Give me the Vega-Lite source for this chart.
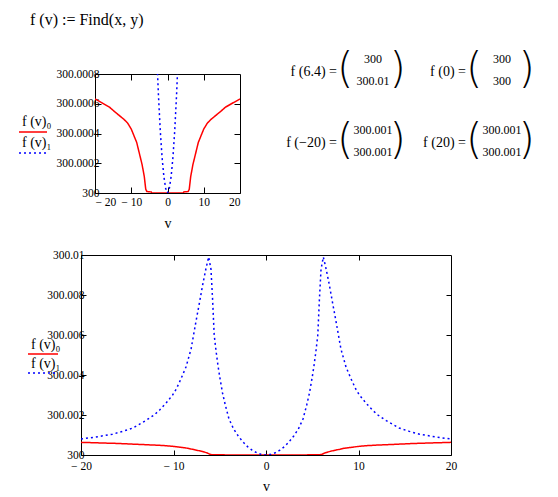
{
  "$schema": "https://vega.github.io/schema/vega-lite/v6.json",
  "background": "white",
  "padding": {"left": 18, "top": 11, "right": 0, "bottom": 0},
  "autosize": {"type": "pad"},
  "config": {
    "font": "Liberation Serif",
    "view": {"stroke": "black", "strokeWidth": 1},
    "axis": {
      "labelFont": "Liberation Serif",
      "labelFontSize": 11.5,
      "labelColor": "black",
      "tickColor": "black",
      "tickWidth": 1,
      "domain": false,
      "grid": false,
      "titleFont": "Liberation Serif",
      "titleFontSize": 14,
      "titleFontWeight": "normal",
      "titleColor": "black"
    },
    "legend": {
      "labelFont": "Liberation Serif",
      "labelFontSize": 14,
      "labelColor": "black",
      "symbolType": "stroke",
      "symbolStrokeWidth": 1.5,
      "padding": 0
    }
  },
  "title": {
    "text": "f (v)  :=  Find(x, y)",
    "anchor": "start",
    "font": "Liberation Serif",
    "fontSize": 16,
    "fontWeight": "normal",
    "color": "black",
    "dx": 12,
    "offset": 21
  },
  "datasets": {
    "f": [
      {"v": -20, "y": 300.000632, "s": "f (v)₀"},
      {"v": -18, "y": 300.000605, "s": "f (v)₀"},
      {"v": -16, "y": 300.000577, "s": "f (v)₀"},
      {"v": -14.5, "y": 300.000545, "s": "f (v)₀"},
      {"v": -13, "y": 300.000515, "s": "f (v)₀"},
      {"v": -12, "y": 300.000495, "s": "f (v)₀"},
      {"v": -11, "y": 300.00047, "s": "f (v)₀"},
      {"v": -10, "y": 300.00043, "s": "f (v)₀"},
      {"v": -9, "y": 300.00037, "s": "f (v)₀"},
      {"v": -8.5, "y": 300.00034, "s": "f (v)₀"},
      {"v": -8, "y": 300.00029, "s": "f (v)₀"},
      {"v": -7.5, "y": 300.00024, "s": "f (v)₀"},
      {"v": -7, "y": 300.00019, "s": "f (v)₀"},
      {"v": -6.7, "y": 300.00015, "s": "f (v)₀"},
      {"v": -6.4, "y": 300.00011, "s": "f (v)₀"},
      {"v": -6, "y": 300.000025, "s": "f (v)₀"},
      {"v": -5.7, "y": 300.00001, "s": "f (v)₀"},
      {"v": -4.5, "y": 300.000007, "s": "f (v)₀"},
      {"v": -4.4, "y": 300, "s": "f (v)₀"},
      {"v": 0, "y": 300, "s": "f (v)₀"},
      {"v": 4.4, "y": 300, "s": "f (v)₀"},
      {"v": 4.5, "y": 300.000007, "s": "f (v)₀"},
      {"v": 5.7, "y": 300.00001, "s": "f (v)₀"},
      {"v": 6, "y": 300.000025, "s": "f (v)₀"},
      {"v": 6.4, "y": 300.00011, "s": "f (v)₀"},
      {"v": 6.7, "y": 300.00015, "s": "f (v)₀"},
      {"v": 7, "y": 300.00019, "s": "f (v)₀"},
      {"v": 7.5, "y": 300.00024, "s": "f (v)₀"},
      {"v": 8, "y": 300.00029, "s": "f (v)₀"},
      {"v": 8.5, "y": 300.00034, "s": "f (v)₀"},
      {"v": 9, "y": 300.00037, "s": "f (v)₀"},
      {"v": 10, "y": 300.00043, "s": "f (v)₀"},
      {"v": 11, "y": 300.00047, "s": "f (v)₀"},
      {"v": 12, "y": 300.000495, "s": "f (v)₀"},
      {"v": 13, "y": 300.000515, "s": "f (v)₀"},
      {"v": 14.5, "y": 300.000545, "s": "f (v)₀"},
      {"v": 16, "y": 300.000577, "s": "f (v)₀"},
      {"v": 18, "y": 300.000605, "s": "f (v)₀"},
      {"v": 20, "y": 300.000632, "s": "f (v)₀"},
      {"v": -20, "y": 300.0008, "s": "f (v)₁"},
      {"v": -19, "y": 300.00086, "s": "f (v)₁"},
      {"v": -18, "y": 300.00093, "s": "f (v)₁"},
      {"v": -16.6, "y": 300.00104, "s": "f (v)₁"},
      {"v": -15.5, "y": 300.00118, "s": "f (v)₁"},
      {"v": -14.4, "y": 300.00135, "s": "f (v)₁"},
      {"v": -13, "y": 300.00172, "s": "f (v)₁"},
      {"v": -12.1, "y": 300.002, "s": "f (v)₁"},
      {"v": -11.5, "y": 300.00225, "s": "f (v)₁"},
      {"v": -10.8, "y": 300.0026, "s": "f (v)₁"},
      {"v": -10.1, "y": 300.003, "s": "f (v)₁"},
      {"v": -9.7, "y": 300.0033, "s": "f (v)₁"},
      {"v": -9.2, "y": 300.0038, "s": "f (v)₁"},
      {"v": -8.65, "y": 300.0044, "s": "f (v)₁"},
      {"v": -8.1, "y": 300.0053, "s": "f (v)₁"},
      {"v": -7.6, "y": 300.0066, "s": "f (v)₁"},
      {"v": -7.2, "y": 300.0076, "s": "f (v)₁"},
      {"v": -6.85, "y": 300.0085, "s": "f (v)₁"},
      {"v": -6.5, "y": 300.0093, "s": "f (v)₁"},
      {"v": -6.2, "y": 300.0099, "s": "f (v)₁"},
      {"v": -5.95, "y": 300.0093, "s": "f (v)₁"},
      {"v": -5.77, "y": 300.00775, "s": "f (v)₁"},
      {"v": -5.6, "y": 300.006, "s": "f (v)₁"},
      {"v": -5.4, "y": 300.0052, "s": "f (v)₁"},
      {"v": -5.2, "y": 300.0045, "s": "f (v)₁"},
      {"v": -5, "y": 300.0039, "s": "f (v)₁"},
      {"v": -4.7, "y": 300.0031, "s": "f (v)₁"},
      {"v": -4.4, "y": 300.0025, "s": "f (v)₁"},
      {"v": -4, "y": 300.0018, "s": "f (v)₁"},
      {"v": -3.5, "y": 300.0013, "s": "f (v)₁"},
      {"v": -3, "y": 300.00095, "s": "f (v)₁"},
      {"v": -2.5, "y": 300.00066, "s": "f (v)₁"},
      {"v": -2, "y": 300.00042, "s": "f (v)₁"},
      {"v": -1.5, "y": 300.00024, "s": "f (v)₁"},
      {"v": -1, "y": 300.00011, "s": "f (v)₁"},
      {"v": -0.5, "y": 300.00003, "s": "f (v)₁"},
      {"v": 0, "y": 300, "s": "f (v)₁"},
      {"v": 0.5, "y": 300.00003, "s": "f (v)₁"},
      {"v": 1, "y": 300.00011, "s": "f (v)₁"},
      {"v": 1.5, "y": 300.00024, "s": "f (v)₁"},
      {"v": 2, "y": 300.00042, "s": "f (v)₁"},
      {"v": 2.5, "y": 300.00066, "s": "f (v)₁"},
      {"v": 3, "y": 300.00095, "s": "f (v)₁"},
      {"v": 3.5, "y": 300.0013, "s": "f (v)₁"},
      {"v": 4, "y": 300.0018, "s": "f (v)₁"},
      {"v": 4.4, "y": 300.0025, "s": "f (v)₁"},
      {"v": 4.7, "y": 300.0031, "s": "f (v)₁"},
      {"v": 5, "y": 300.0039, "s": "f (v)₁"},
      {"v": 5.2, "y": 300.0045, "s": "f (v)₁"},
      {"v": 5.4, "y": 300.0052, "s": "f (v)₁"},
      {"v": 5.6, "y": 300.006, "s": "f (v)₁"},
      {"v": 5.77, "y": 300.00775, "s": "f (v)₁"},
      {"v": 5.95, "y": 300.0093, "s": "f (v)₁"},
      {"v": 6.2, "y": 300.0099, "s": "f (v)₁"},
      {"v": 6.5, "y": 300.0093, "s": "f (v)₁"},
      {"v": 6.85, "y": 300.0085, "s": "f (v)₁"},
      {"v": 7.2, "y": 300.0076, "s": "f (v)₁"},
      {"v": 7.6, "y": 300.0066, "s": "f (v)₁"},
      {"v": 8.1, "y": 300.0053, "s": "f (v)₁"},
      {"v": 8.65, "y": 300.0044, "s": "f (v)₁"},
      {"v": 9.2, "y": 300.0038, "s": "f (v)₁"},
      {"v": 9.7, "y": 300.0033, "s": "f (v)₁"},
      {"v": 10.1, "y": 300.003, "s": "f (v)₁"},
      {"v": 10.8, "y": 300.0026, "s": "f (v)₁"},
      {"v": 11.5, "y": 300.00225, "s": "f (v)₁"},
      {"v": 12.1, "y": 300.002, "s": "f (v)₁"},
      {"v": 13, "y": 300.00172, "s": "f (v)₁"},
      {"v": 14.4, "y": 300.00135, "s": "f (v)₁"},
      {"v": 15.5, "y": 300.00118, "s": "f (v)₁"},
      {"v": 16.6, "y": 300.00104, "s": "f (v)₁"},
      {"v": 18, "y": 300.00093, "s": "f (v)₁"},
      {"v": 19, "y": 300.00086, "s": "f (v)₁"},
      {"v": 20, "y": 300.0008, "s": "f (v)₁"}
    ],
    "m": [
      {"col": 0, "row": 0, "lab": "f (6.4) =", "top": "300", "bot": "300.01"},
      {"col": 1, "row": 0, "lab": "f (0) =", "top": "300", "bot": "300"},
      {"col": 0, "row": 1, "lab": "f (−20) =", "top": "300.001", "bot": "300.001"},
      {"col": 1, "row": 1, "lab": "f (20) =", "top": "300.001", "bot": "300.001"}
    ]
  },
  "vconcat": [
    {
      "hconcat": [
        {
          "width": 1,
          "height": 1,
          "view": {"stroke": null},
          "data": {"values": [{}]},
          "mark": {"type": "point", "opacity": 0}
        },
        {
          "width": 145,
          "height": 119,
          "data": {"name": "f"},
          "layer": [
            {
              "mark": {"type": "line", "clip": true, "strokeWidth": 1.5},
              "encoding": {
                "x": {"field": "v", "type": "quantitative",
                  "scale": {"domain": [-20, 20], "nice": false, "zero": false},
                  "axis": {"orient": "bottom", "values": [-20, -10, 0, 10, 20], "tickSize": -6,
                    "labelExpr": "datum.value < 0 ? '− ' + (-datum.value) : datum.label",
                    "labelFlush": true, "labelOverlap": false, "labelPadding": 9.5,
                    "title": "v", "titlePadding": 8}},
                "y": {"field": "y", "type": "quantitative",
                  "scale": {"domain": [300, 300.0008], "nice": false, "zero": false},
                  "axis": {"orient": "left", "values": [300, 300.0002, 300.0004, 300.0006, 300.0008], "tickSize": -6,
                    "labelExpr": "format(datum.value, '.6~f')", "labelPadding": 2, "title": null}},
                "color": {"field": "s", "type": "nominal",
                  "scale": {"domain": ["f (v)₀", "f (v)₁"], "range": ["#ff0000", "#0000ff"]},
                  "legend": {"title": null, "orient": "none", "legendX": -63, "legendY": 43, "symbolSize": 784, "labelOffset": -26, "rowPadding": 1,
                    "encode": {"labels": {"update": {"dy": {"value": -10}}}}}},
                "strokeDash": {"field": "s", "type": "nominal",
                  "scale": {"domain": ["f (v)₀", "f (v)₁"], "range": [[1, 0], [2, 3]]},
                  "legend": {"title": null, "orient": "none", "legendX": -63, "legendY": 43, "symbolSize": 784, "labelOffset": -26, "rowPadding": 1,
                    "encode": {"labels": {"update": {"dy": {"value": -10}}}}}}
              }
            },
            {
              "mark": {"type": "point", "clip": true, "opacity": 0},
              "encoding": {
                "x": {"field": "v", "type": "quantitative",
                  "scale": {"domain": [-20, 20], "nice": false, "zero": false},
                  "axis": {"orient": "top", "values": [-10, 0, 10], "tickSize": -6, "labels": false, "title": null}},
                "y": {"field": "y", "type": "quantitative",
                  "scale": {"domain": [300, 300.0008], "nice": false, "zero": false},
                  "axis": {"orient": "right", "values": [300.0002, 300.0004, 300.0006], "tickSize": -6, "labels": false, "title": null}}
              }
            }
          ],
          "resolve": {"axis": {"x": "independent", "y": "independent"}}
        },
        {
          "width": 213,
          "height": 71,
          "view": {"stroke": null},
          "data": {"name": "m"},
          "encoding": {
            "x": {"field": "col", "type": "quantitative", "scale": {"domain": [-0.651, 1], "nice": false, "zero": false}, "axis": null},
            "y": {"field": "row", "type": "quantitative", "scale": {"domain": [0, 1], "reverse": true}, "axis": null}
          },
          "layer": [
            {"mark": {"type": "text", "align": "right", "baseline": "middle", "dy": -2, "fontSize": 14, "font": "Liberation Serif", "color": "black"},
             "encoding": {"text": {"field": "lab"}}},
            {"mark": {"type": "text", "align": "left", "baseline": "middle", "dx": 0, "dy": -4.5, "fontSize": 42, "font": "DejaVu Sans", "fontWeight": 200, "color": "black", "text": "("}},
            {"mark": {"type": "text", "align": "center", "baseline": "middle", "dx": 36, "dy": -15.5, "fontSize": 12, "font": "Liberation Serif", "color": "black"},
             "encoding": {"text": {"field": "top"}}},
            {"mark": {"type": "text", "align": "center", "baseline": "middle", "dx": 36, "dy": 7, "fontSize": 12, "font": "Liberation Serif", "color": "black"},
             "encoding": {"text": {"field": "bot"}}},
            {"mark": {"type": "text", "align": "right", "baseline": "middle", "dx": 69, "dy": -4.5, "fontSize": 42, "font": "DejaVu Sans", "fontWeight": 200, "color": "black", "text": ")"}}
          ]
        }
      ],
      "bounds": "flush",
      "spacing": 13
    },
    {
      "width": 370,
      "height": 200,
      "data": {"name": "f"},
      "layer": [
        {
          "mark": {"type": "line", "clip": true, "strokeWidth": 1.5},
          "encoding": {
            "x": {"field": "v", "type": "quantitative",
              "scale": {"domain": [-20, 20], "nice": false, "zero": false},
              "axis": {"orient": "bottom", "values": [-20, -10, 0, 10, 20], "tickSize": -5,
                "labelExpr": "datum.value < 0 ? '− ' + (-datum.value) : datum.label",
                "labelFlush": false, "labelOverlap": false, "labelPadding": 10,
                "title": "v", "titlePadding": 8}},
            "y": {"field": "y", "type": "quantitative",
              "scale": {"domain": [300, 300.01], "nice": false, "zero": false},
              "axis": {"orient": "left", "values": [300, 300.002, 300.004, 300.006, 300.008, 300.01], "tickSize": -5,
                "labelExpr": "format(datum.value, '.6~f')", "labelPadding": 2, "title": null}},
            "color": {"field": "s", "type": "nominal",
              "scale": {"domain": ["f (v)₀", "f (v)₁"], "range": ["#ff0000", "#0000ff"]},
              "legend": {"title": null, "orient": "none", "legendX": -54, "legendY": 83, "symbolSize": 900, "labelOffset": -28, "rowPadding": 0,
                "encode": {"labels": {"update": {"dy": {"value": -9}}}}}},
            "strokeDash": {"field": "s", "type": "nominal",
              "scale": {"domain": ["f (v)₀", "f (v)₁"], "range": [[1, 0], [2, 3]]},
              "legend": {"title": null, "orient": "none", "legendX": -54, "legendY": 83, "symbolSize": 900, "labelOffset": -28, "rowPadding": 0,
                "encode": {"labels": {"update": {"dy": {"value": -9}}}}}}
          }
        },
        {
          "mark": {"type": "point", "clip": true, "opacity": 0},
          "encoding": {
            "x": {"field": "v", "type": "quantitative",
              "scale": {"domain": [-20, 20], "nice": false, "zero": false},
              "axis": {"orient": "top", "values": [-10, 0, 10], "tickSize": -5, "labels": false, "title": null}},
            "y": {"field": "y", "type": "quantitative",
              "scale": {"domain": [300, 300.01], "nice": false, "zero": false},
              "axis": {"orient": "right", "values": [300.002, 300.004, 300.006, 300.008], "tickSize": -5, "labels": false, "title": null}}
          }
        }
      ],
      "resolve": {"axis": {"x": "independent", "y": "independent"}}
    }
  ],
  "spacing": 17,
  "resolve": {
    "scale": {"color": "independent", "strokeDash": "independent"},
    "legend": {"color": "independent", "strokeDash": "independent"}
  }
}
